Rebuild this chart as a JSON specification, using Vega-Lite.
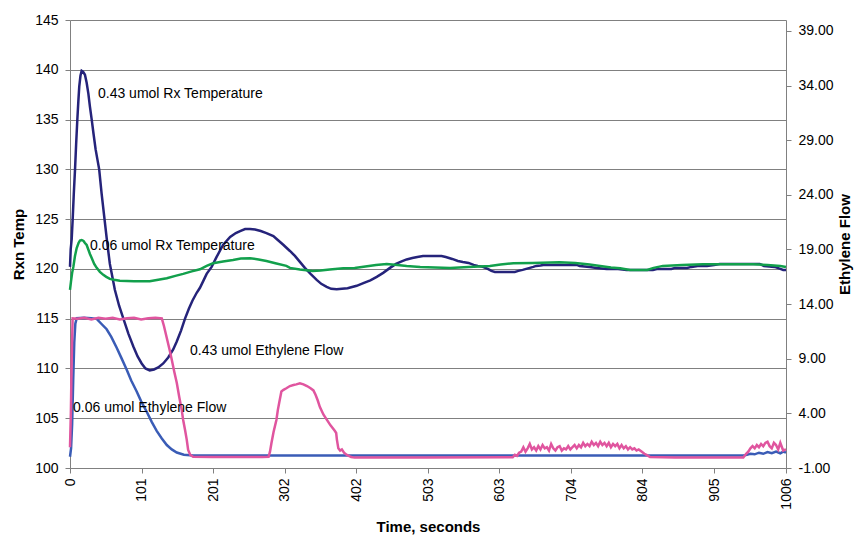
{
"$schema": "https://vega.github.io/schema/vega-lite/v6.json",
"width": 716, "height": 448,
"autosize": {"type": "none"},
"padding": {"left": 70, "top": 20, "right": 72, "bottom": 68},
"config": {"view": {"stroke": null}, "font": "Liberation Sans", "axis": {"labelColor": "#000", "titleColor": "#000", "labelFont": "Liberation Sans", "titleFont": "Liberation Sans"}},
"datasets": {
"temp": [
{"s":"A43","t":0,"v":120.2},{"s":"A43","t":1,"v":122},{"s":"A43","t":2.4,"v":123},{"s":"A43","t":3.7,"v":124.9},{"s":"A43","t":5.3,"v":127.5},{"s":"A43","t":7,"v":129.9},{"s":"A43","t":8.6,"v":132.5},{"s":"A43","t":10.3,"v":135},{"s":"A43","t":11.7,"v":136.8},{"s":"A43","t":13,"v":138.3},{"s":"A43","t":14.7,"v":139.4},{"s":"A43","t":16.4,"v":139.9},{"s":"A43","t":18.5,"v":139.8},{"s":"A43","t":21,"v":139.5},{"s":"A43","t":23.4,"v":138.7},{"s":"A43","t":25.8,"v":137.6},{"s":"A43","t":28,"v":136.3},{"s":"A43","t":30.5,"v":135},{"s":"A43","t":33,"v":133.6},{"s":"A43","t":36,"v":132},{"s":"A43","t":38.5,"v":131},{"s":"A43","t":41,"v":130},{"s":"A43","t":44.5,"v":127.5},{"s":"A43","t":48.5,"v":125},{"s":"A43","t":52,"v":122.8},{"s":"A43","t":56,"v":120.5},{"s":"A43","t":59.5,"v":119.2},{"s":"A43","t":63,"v":117.9},{"s":"A43","t":69,"v":116.3},{"s":"A43","t":75,"v":115},{"s":"A43","t":82,"v":113.5},{"s":"A43","t":89,"v":112.2},{"s":"A43","t":95,"v":111.2},{"s":"A43","t":100.7,"v":110.5},{"s":"A43","t":106,"v":110},{"s":"A43","t":112,"v":109.8},{"s":"A43","t":118,"v":109.9},{"s":"A43","t":124,"v":110.1},{"s":"A43","t":131,"v":110.5},{"s":"A43","t":138,"v":111.1},{"s":"A43","t":145,"v":111.9},{"s":"A43","t":150,"v":112.7},{"s":"A43","t":156,"v":113.8},{"s":"A43","t":161.6,"v":115},{"s":"A43","t":167,"v":116},{"s":"A43","t":172,"v":116.8},{"s":"A43","t":178,"v":117.6},{"s":"A43","t":182.6,"v":118.1},{"s":"A43","t":188,"v":118.9},{"s":"A43","t":192,"v":119.5},{"s":"A43","t":199,"v":120.2},{"s":"A43","t":206,"v":121.2},{"s":"A43","t":215,"v":122.4},{"s":"A43","t":225,"v":123.2},{"s":"A43","t":233,"v":123.6},{"s":"A43","t":239,"v":123.8},{"s":"A43","t":246,"v":124},{"s":"A43","t":253,"v":124},{"s":"A43","t":260,"v":123.95},{"s":"A43","t":268,"v":123.8},{"s":"A43","t":276,"v":123.6},{"s":"A43","t":285.7,"v":123.3},{"s":"A43","t":292,"v":122.9},{"s":"A43","t":300,"v":122.4},{"s":"A43","t":309,"v":121.8},{"s":"A43","t":316,"v":121.3},{"s":"A43","t":323,"v":120.7},{"s":"A43","t":330,"v":120.1},{"s":"A43","t":338,"v":119.5},{"s":"A43","t":346.6,"v":118.9},{"s":"A43","t":353,"v":118.5},{"s":"A43","t":360.6,"v":118.2},{"s":"A43","t":367,"v":118},{"s":"A43","t":374.7,"v":117.95},{"s":"A43","t":382,"v":118},{"s":"A43","t":390,"v":118.05},{"s":"A43","t":402.8,"v":118.3},{"s":"A43","t":413,"v":118.6},{"s":"A43","t":422,"v":118.85},{"s":"A43","t":431,"v":119.2},{"s":"A43","t":440,"v":119.6},{"s":"A43","t":449.6,"v":120.1},{"s":"A43","t":458,"v":120.5},{"s":"A43","t":466,"v":120.75},{"s":"A43","t":473,"v":120.95},{"s":"A43","t":481,"v":121.1},{"s":"A43","t":488,"v":121.2},{"s":"A43","t":496,"v":121.3},{"s":"A43","t":505,"v":121.3},{"s":"A43","t":515,"v":121.3},{"s":"A43","t":522,"v":121.3},{"s":"A43","t":528,"v":121.2},{"s":"A43","t":537,"v":121},{"s":"A43","t":545,"v":120.8},{"s":"A43","t":552,"v":120.7},{"s":"A43","t":560,"v":120.6},{"s":"A43","t":567,"v":120.4},{"s":"A43","t":573,"v":120.3},{"s":"A43","t":580,"v":120.2},{"s":"A43","t":587,"v":120},{"s":"A43","t":592,"v":119.8},{"s":"A43","t":597,"v":119.7},{"s":"A43","t":610,"v":119.7},{"s":"A43","t":625,"v":119.7},{"s":"A43","t":630,"v":119.8},{"s":"A43","t":636,"v":119.9},{"s":"A43","t":641,"v":120},{"s":"A43","t":646,"v":120.1},{"s":"A43","t":651,"v":120.2},{"s":"A43","t":655,"v":120.3},{"s":"A43","t":661,"v":120.35},{"s":"A43","t":665,"v":120.4},{"s":"A43","t":690,"v":120.4},{"s":"A43","t":712,"v":120.4},{"s":"A43","t":716,"v":120.3},{"s":"A43","t":730,"v":120.2},{"s":"A43","t":740,"v":120.1},{"s":"A43","t":754,"v":120},{"s":"A43","t":770,"v":120},{"s":"A43","t":782,"v":119.9},{"s":"A43","t":800,"v":119.9},{"s":"A43","t":819,"v":119.9},{"s":"A43","t":826,"v":120},{"s":"A43","t":845,"v":120},{"s":"A43","t":850,"v":120.1},{"s":"A43","t":867,"v":120.1},{"s":"A43","t":873,"v":120.2},{"s":"A43","t":882,"v":120.3},{"s":"A43","t":895,"v":120.3},{"s":"A43","t":905,"v":120.4},{"s":"A43","t":913,"v":120.5},{"s":"A43","t":940,"v":120.5},{"s":"A43","t":955,"v":120.5},{"s":"A43","t":969,"v":120.5},{"s":"A43","t":975,"v":120.3},{"s":"A43","t":990,"v":120.2},{"s":"A43","t":998,"v":120},{"s":"A43","t":1002,"v":119.9},{"s":"A43","t":1006,"v":119.9},
{"s":"A06","t":0,"v":117.9},{"s":"A06","t":1.5,"v":118.8},{"s":"A06","t":3,"v":119.6},{"s":"A06","t":4.7,"v":120.2},{"s":"A06","t":7,"v":121.3},{"s":"A06","t":9.4,"v":122.1},{"s":"A06","t":12,"v":122.6},{"s":"A06","t":14,"v":122.85},{"s":"A06","t":16.4,"v":122.9},{"s":"A06","t":19,"v":122.8},{"s":"A06","t":21,"v":122.6},{"s":"A06","t":23.4,"v":122.4},{"s":"A06","t":26,"v":121.9},{"s":"A06","t":28,"v":121.5},{"s":"A06","t":30.5,"v":121.1},{"s":"A06","t":34,"v":120.5},{"s":"A06","t":37.5,"v":120.1},{"s":"A06","t":42,"v":119.7},{"s":"A06","t":46.8,"v":119.4},{"s":"A06","t":51,"v":119.2},{"s":"A06","t":56,"v":119},{"s":"A06","t":62,"v":118.9},{"s":"A06","t":70,"v":118.8},{"s":"A06","t":90,"v":118.75},{"s":"A06","t":112,"v":118.75},{"s":"A06","t":124,"v":118.9},{"s":"A06","t":136,"v":119.06},{"s":"A06","t":148,"v":119.3},{"s":"A06","t":159,"v":119.5},{"s":"A06","t":171,"v":119.75},{"s":"A06","t":182.6,"v":119.96},{"s":"A06","t":192,"v":120.3},{"s":"A06","t":201,"v":120.56},{"s":"A06","t":215,"v":120.75},{"s":"A06","t":229,"v":120.9},{"s":"A06","t":240,"v":121.05},{"s":"A06","t":253,"v":121.06},{"s":"A06","t":265,"v":120.95},{"s":"A06","t":276,"v":120.8},{"s":"A06","t":290,"v":120.55},{"s":"A06","t":304,"v":120.3},{"s":"A06","t":309,"v":120.1},{"s":"A06","t":323,"v":119.95},{"s":"A06","t":341,"v":119.8},{"s":"A06","t":352,"v":119.85},{"s":"A06","t":365,"v":119.95},{"s":"A06","t":384,"v":120.06},{"s":"A06","t":400,"v":120.1},{"s":"A06","t":415,"v":120.25},{"s":"A06","t":430,"v":120.4},{"s":"A06","t":445,"v":120.5},{"s":"A06","t":460,"v":120.4},{"s":"A06","t":473,"v":120.3},{"s":"A06","t":492,"v":120.2},{"s":"A06","t":534,"v":120.1},{"s":"A06","t":560,"v":120.2},{"s":"A06","t":590,"v":120.3},{"s":"A06","t":605,"v":120.45},{"s":"A06","t":623,"v":120.56},{"s":"A06","t":650,"v":120.6},{"s":"A06","t":688,"v":120.66},{"s":"A06","t":710,"v":120.6},{"s":"A06","t":730,"v":120.45},{"s":"A06","t":745,"v":120.3},{"s":"A06","t":760,"v":120.15},{"s":"A06","t":773,"v":120.06},{"s":"A06","t":787,"v":119.9},{"s":"A06","t":811,"v":119.9},{"s":"A06","t":820,"v":120.1},{"s":"A06","t":833,"v":120.3},{"s":"A06","t":860,"v":120.4},{"s":"A06","t":889,"v":120.46},{"s":"A06","t":960,"v":120.46},{"s":"A06","t":980,"v":120.4},{"s":"A06","t":998,"v":120.3},{"s":"A06","t":1006,"v":120.2}
],
"flow": [
{"s":"F06","t":0,"v":0.03},{"s":"F06","t":1.5,"v":0.8},{"s":"F06","t":3,"v":3},{"s":"F06","t":4.5,"v":7},{"s":"F06","t":6,"v":10.5},{"s":"F06","t":7.5,"v":12.2},{"s":"F06","t":9.4,"v":12.7},{"s":"F06","t":20,"v":12.75},{"s":"F06","t":30,"v":12.7},{"s":"F06","t":37.5,"v":12.65},{"s":"F06","t":44,"v":12.2},{"s":"F06","t":51.5,"v":11.7},{"s":"F06","t":58,"v":11},{"s":"F06","t":65.6,"v":10},{"s":"F06","t":72,"v":9.1},{"s":"F06","t":79.7,"v":8},{"s":"F06","t":86,"v":7},{"s":"F06","t":93.7,"v":6},{"s":"F06","t":100,"v":5.1},{"s":"F06","t":107.8,"v":4.15},{"s":"F06","t":115,"v":3.2},{"s":"F06","t":121.8,"v":2.4},{"s":"F06","t":129,"v":1.7},{"s":"F06","t":136,"v":1.1},{"s":"F06","t":143,"v":0.7},{"s":"F06","t":150,"v":0.42},{"s":"F06","t":160,"v":0.22},{"s":"F06","t":173,"v":0.15},{"s":"F06","t":300,"v":0.15},{"s":"F06","t":500,"v":0.15},{"s":"F06","t":700,"v":0.15},{"s":"F06","t":900,"v":0.15},{"s":"F06","t":946,"v":0.15},{"s":"F06","t":951,"v":0.2},{"s":"F06","t":956,"v":0.3},{"s":"F06","t":962,"v":0.25},{"s":"F06","t":968,"v":0.4},{"s":"F06","t":974,"v":0.3},{"s":"F06","t":980,"v":0.45},{"s":"F06","t":986,"v":0.35},{"s":"F06","t":992,"v":0.5},{"s":"F06","t":998,"v":0.35},{"s":"F06","t":1002,"v":0.5},{"s":"F06","t":1006,"v":0.4},
{"s":"F43","t":0,"v":0.9},{"s":"F43","t":1.2,"v":4},{"s":"F43","t":2.4,"v":9},{"s":"F43","t":3.7,"v":12.7},{"s":"F43","t":10,"v":12.65},{"s":"F43","t":20,"v":12.75},{"s":"F43","t":30,"v":12.6},{"s":"F43","t":40,"v":12.75},{"s":"F43","t":50,"v":12.65},{"s":"F43","t":60,"v":12.75},{"s":"F43","t":70,"v":12.6},{"s":"F43","t":80,"v":12.7},{"s":"F43","t":90,"v":12.75},{"s":"F43","t":100,"v":12.6},{"s":"F43","t":110,"v":12.7},{"s":"F43","t":120,"v":12.75},{"s":"F43","t":129,"v":12.7},{"s":"F43","t":132,"v":12},{"s":"F43","t":136,"v":10.9},{"s":"F43","t":140,"v":9.8},{"s":"F43","t":143,"v":8.9},{"s":"F43","t":146.5,"v":7.8},{"s":"F43","t":150,"v":6.8},{"s":"F43","t":153.5,"v":5.5},{"s":"F43","t":157,"v":4.3},{"s":"F43","t":159,"v":3.4},{"s":"F43","t":161.6,"v":2.5},{"s":"F43","t":164,"v":1.6},{"s":"F43","t":166,"v":0.65},{"s":"F43","t":169,"v":0.2},{"s":"F43","t":173,"v":0.03},{"s":"F43","t":200,"v":0},{"s":"F43","t":240,"v":0},{"s":"F43","t":270,"v":0},{"s":"F43","t":279,"v":0.03},{"s":"F43","t":281,"v":0.5},{"s":"F43","t":283,"v":1.26},{"s":"F43","t":286,"v":2.3},{"s":"F43","t":290,"v":3.4},{"s":"F43","t":292,"v":4.3},{"s":"F43","t":294,"v":5},{"s":"F43","t":297,"v":6},{"s":"F43","t":300,"v":6.15},{"s":"F43","t":304,"v":6.3},{"s":"F43","t":309,"v":6.5},{"s":"F43","t":314,"v":6.6},{"s":"F43","t":318,"v":6.65},{"s":"F43","t":323,"v":6.75},{"s":"F43","t":328,"v":6.65},{"s":"F43","t":333,"v":6.5},{"s":"F43","t":338,"v":6.3},{"s":"F43","t":342,"v":6.1},{"s":"F43","t":345,"v":5.7},{"s":"F43","t":348,"v":5.2},{"s":"F43","t":351,"v":4.6},{"s":"F43","t":356,"v":3.9},{"s":"F43","t":361,"v":3.4},{"s":"F43","t":366,"v":2.9},{"s":"F43","t":372,"v":2.4},{"s":"F43","t":374,"v":2.2},{"s":"F43","t":375,"v":1.6},{"s":"F43","t":377,"v":0.8},{"s":"F43","t":379.5,"v":0.6},{"s":"F43","t":382,"v":0.7},{"s":"F43","t":385,"v":0.4},{"s":"F43","t":389,"v":0.2},{"s":"F43","t":395,"v":0},{"s":"F43","t":400,"v":-0.05},{"s":"F43","t":500,"v":-0.05},{"s":"F43","t":622,"v":-0.02},{"s":"F43","t":625,"v":0.2},{"s":"F43","t":628,"v":0.1},{"s":"F43","t":631,"v":0.4},{"s":"F43","t":634,"v":0.5},{"s":"F43","t":637,"v":0.9},{"s":"F43","t":640,"v":0.5},{"s":"F43","t":643,"v":0.8},{"s":"F43","t":646,"v":1.2},{"s":"F43","t":649,"v":0.7},{"s":"F43","t":652,"v":0.9},{"s":"F43","t":655,"v":0.6},{"s":"F43","t":658,"v":1},{"s":"F43","t":661,"v":0.7},{"s":"F43","t":664,"v":1.1},{"s":"F43","t":667,"v":0.8},{"s":"F43","t":670,"v":0.9},{"s":"F43","t":673,"v":0.6},{"s":"F43","t":676,"v":1.2},{"s":"F43","t":679,"v":0.8},{"s":"F43","t":682,"v":0.6},{"s":"F43","t":685,"v":0.9},{"s":"F43","t":688,"v":1},{"s":"F43","t":691,"v":0.6},{"s":"F43","t":694,"v":0.8},{"s":"F43","t":697,"v":0.7},{"s":"F43","t":700,"v":1},{"s":"F43","t":703,"v":0.7},{"s":"F43","t":706,"v":0.9},{"s":"F43","t":709,"v":1.1},{"s":"F43","t":712,"v":0.8},{"s":"F43","t":715,"v":1.1},{"s":"F43","t":718,"v":0.9},{"s":"F43","t":721,"v":1.3},{"s":"F43","t":724,"v":1},{"s":"F43","t":727,"v":1.2},{"s":"F43","t":730,"v":1},{"s":"F43","t":733,"v":1.4},{"s":"F43","t":736,"v":1.1},{"s":"F43","t":739,"v":1.3},{"s":"F43","t":742,"v":1},{"s":"F43","t":745,"v":1.4},{"s":"F43","t":748,"v":1.1},{"s":"F43","t":751,"v":1.3},{"s":"F43","t":754,"v":1},{"s":"F43","t":757,"v":1.3},{"s":"F43","t":760,"v":0.9},{"s":"F43","t":763,"v":1.2},{"s":"F43","t":766,"v":1},{"s":"F43","t":769,"v":1.2},{"s":"F43","t":772,"v":0.8},{"s":"F43","t":775,"v":1.1},{"s":"F43","t":778,"v":0.8},{"s":"F43","t":781,"v":1},{"s":"F43","t":784,"v":0.7},{"s":"F43","t":787,"v":0.9},{"s":"F43","t":790,"v":0.7},{"s":"F43","t":793,"v":0.8},{"s":"F43","t":796,"v":0.6},{"s":"F43","t":799,"v":0.7},{"s":"F43","t":803,"v":0.5},{"s":"F43","t":807,"v":0.3},{"s":"F43","t":810,"v":0.2},{"s":"F43","t":815,"v":0},{"s":"F43","t":850,"v":-0.05},{"s":"F43","t":900,"v":-0.05},{"s":"F43","t":946,"v":-0.05},{"s":"F43","t":950,"v":0.3},{"s":"F43","t":953,"v":0.5},{"s":"F43","t":956,"v":0.8},{"s":"F43","t":959,"v":1},{"s":"F43","t":962,"v":0.8},{"s":"F43","t":965,"v":1.1},{"s":"F43","t":968,"v":0.9},{"s":"F43","t":971,"v":1.2},{"s":"F43","t":974,"v":1},{"s":"F43","t":977,"v":1.3},{"s":"F43","t":980,"v":1.4},{"s":"F43","t":983,"v":1},{"s":"F43","t":986,"v":0.8},{"s":"F43","t":989,"v":1.3},{"s":"F43","t":992,"v":1.1},{"s":"F43","t":995,"v":0.7},{"s":"F43","t":998,"v":1.3},{"s":"F43","t":1002,"v":0.6},{"s":"F43","t":1006,"v":0.7}
],
"labels": [
{"t":39.3,"v":137.17,"label":"0.43 umol Rx Temperature"},
{"t":28.1,"v":121.9,"label":"0.06 umol Rx Temperature"},
{"t":168.6,"v":111.35,"label":"0.43 umol Ethylene Flow"},
{"t":4.2,"v":105.66,"label":"0.06 umol Ethylene Flow"}
]
},
"layer": [
{
"data": {"name": "temp"},
"mark": {"type": "line", "strokeWidth": 2.5},
"encoding": {
"x": {"field": "t", "type": "quantitative", "scale": {"domain": [0, 1006], "nice": false, "zero": false},
"axis": {"values": [0,50.3,101,151,201,251.5,302,352,402,452.5,503,553,603,653.5,704,754,804,854.5,905,955.5,1006], "format": "d", "labelExpr": "indexof([0,101,201,302,402,503,603,704,804,905,1006], datum.value) >= 0 ? datum.label : ''", "labelAngle": -90, "labelOverlap": false, "labelFlush": false, "labelFontSize": 14, "tickSize": 5, "labelPadding": 5, "domainColor": "#808080", "tickColor": "#808080", "grid": false, "title": "Time, seconds", "titleFontSize": 15, "titleFontWeight": "bold", "titlePadding": 10}},
"y": {"field": "v", "type": "quantitative", "scale": {"domain": [100, 145], "nice": false, "zero": false},
"axis": {"orient": "left", "values": [100,105,110,115,120,125,130,135,140,145], "grid": true, "gridColor": "#808080", "gridWidth": 1, "domainColor": "#808080", "tickColor": "#808080", "tickSize": 5, "labelPadding": 7, "labelFontSize": 14, "title": "Rxn Temp", "titleFontSize": 15, "titleFontWeight": "bold", "titlePadding": 8}},
"color": {"field": "s", "type": "nominal", "scale": {"domain": ["A43","A06","F06","F43"], "range": ["#25237a","#12a04c","#3a5cb6","#e0559f"]}, "legend": null}
}
},
{
"data": {"name": "flow"},
"mark": {"type": "line", "strokeWidth": 2.5},
"encoding": {
"x": {"field": "t", "type": "quantitative"},
"y": {"field": "v", "type": "quantitative", "scale": {"domain": [-1, 40], "nice": false, "zero": false},
"axis": {"orient": "right", "values": [-1,4,9,14,19,24,29,34,39], "format": ".2f", "labelExpr": "replace(datum.label, '\u2212', '-')", "grid": false, "domainColor": "#808080", "tickColor": "#808080", "tickSize": 5, "labelPadding": 7, "labelFontSize": 14, "title": "Ethylene Flow", "titleAngle": 270, "titleBaseline": "top", "titleFontSize": 15, "titleFontWeight": "bold", "titlePadding": 4}},
"color": {"field": "s", "type": "nominal", "legend": null}
}
},
{
"data": {"name": "labels"},
"mark": {"type": "text", "align": "left", "baseline": "alphabetic", "fontSize": 14, "font": "Liberation Sans", "color": "#000"},
"encoding": {
"x": {"field": "t", "type": "quantitative"},
"y": {"field": "v", "type": "quantitative", "scale": {"domain": [100, 145], "nice": false, "zero": false}, "axis": null},
"text": {"field": "label"}
}
}
],
"resolve": {"scale": {"y": "independent"}}
}
